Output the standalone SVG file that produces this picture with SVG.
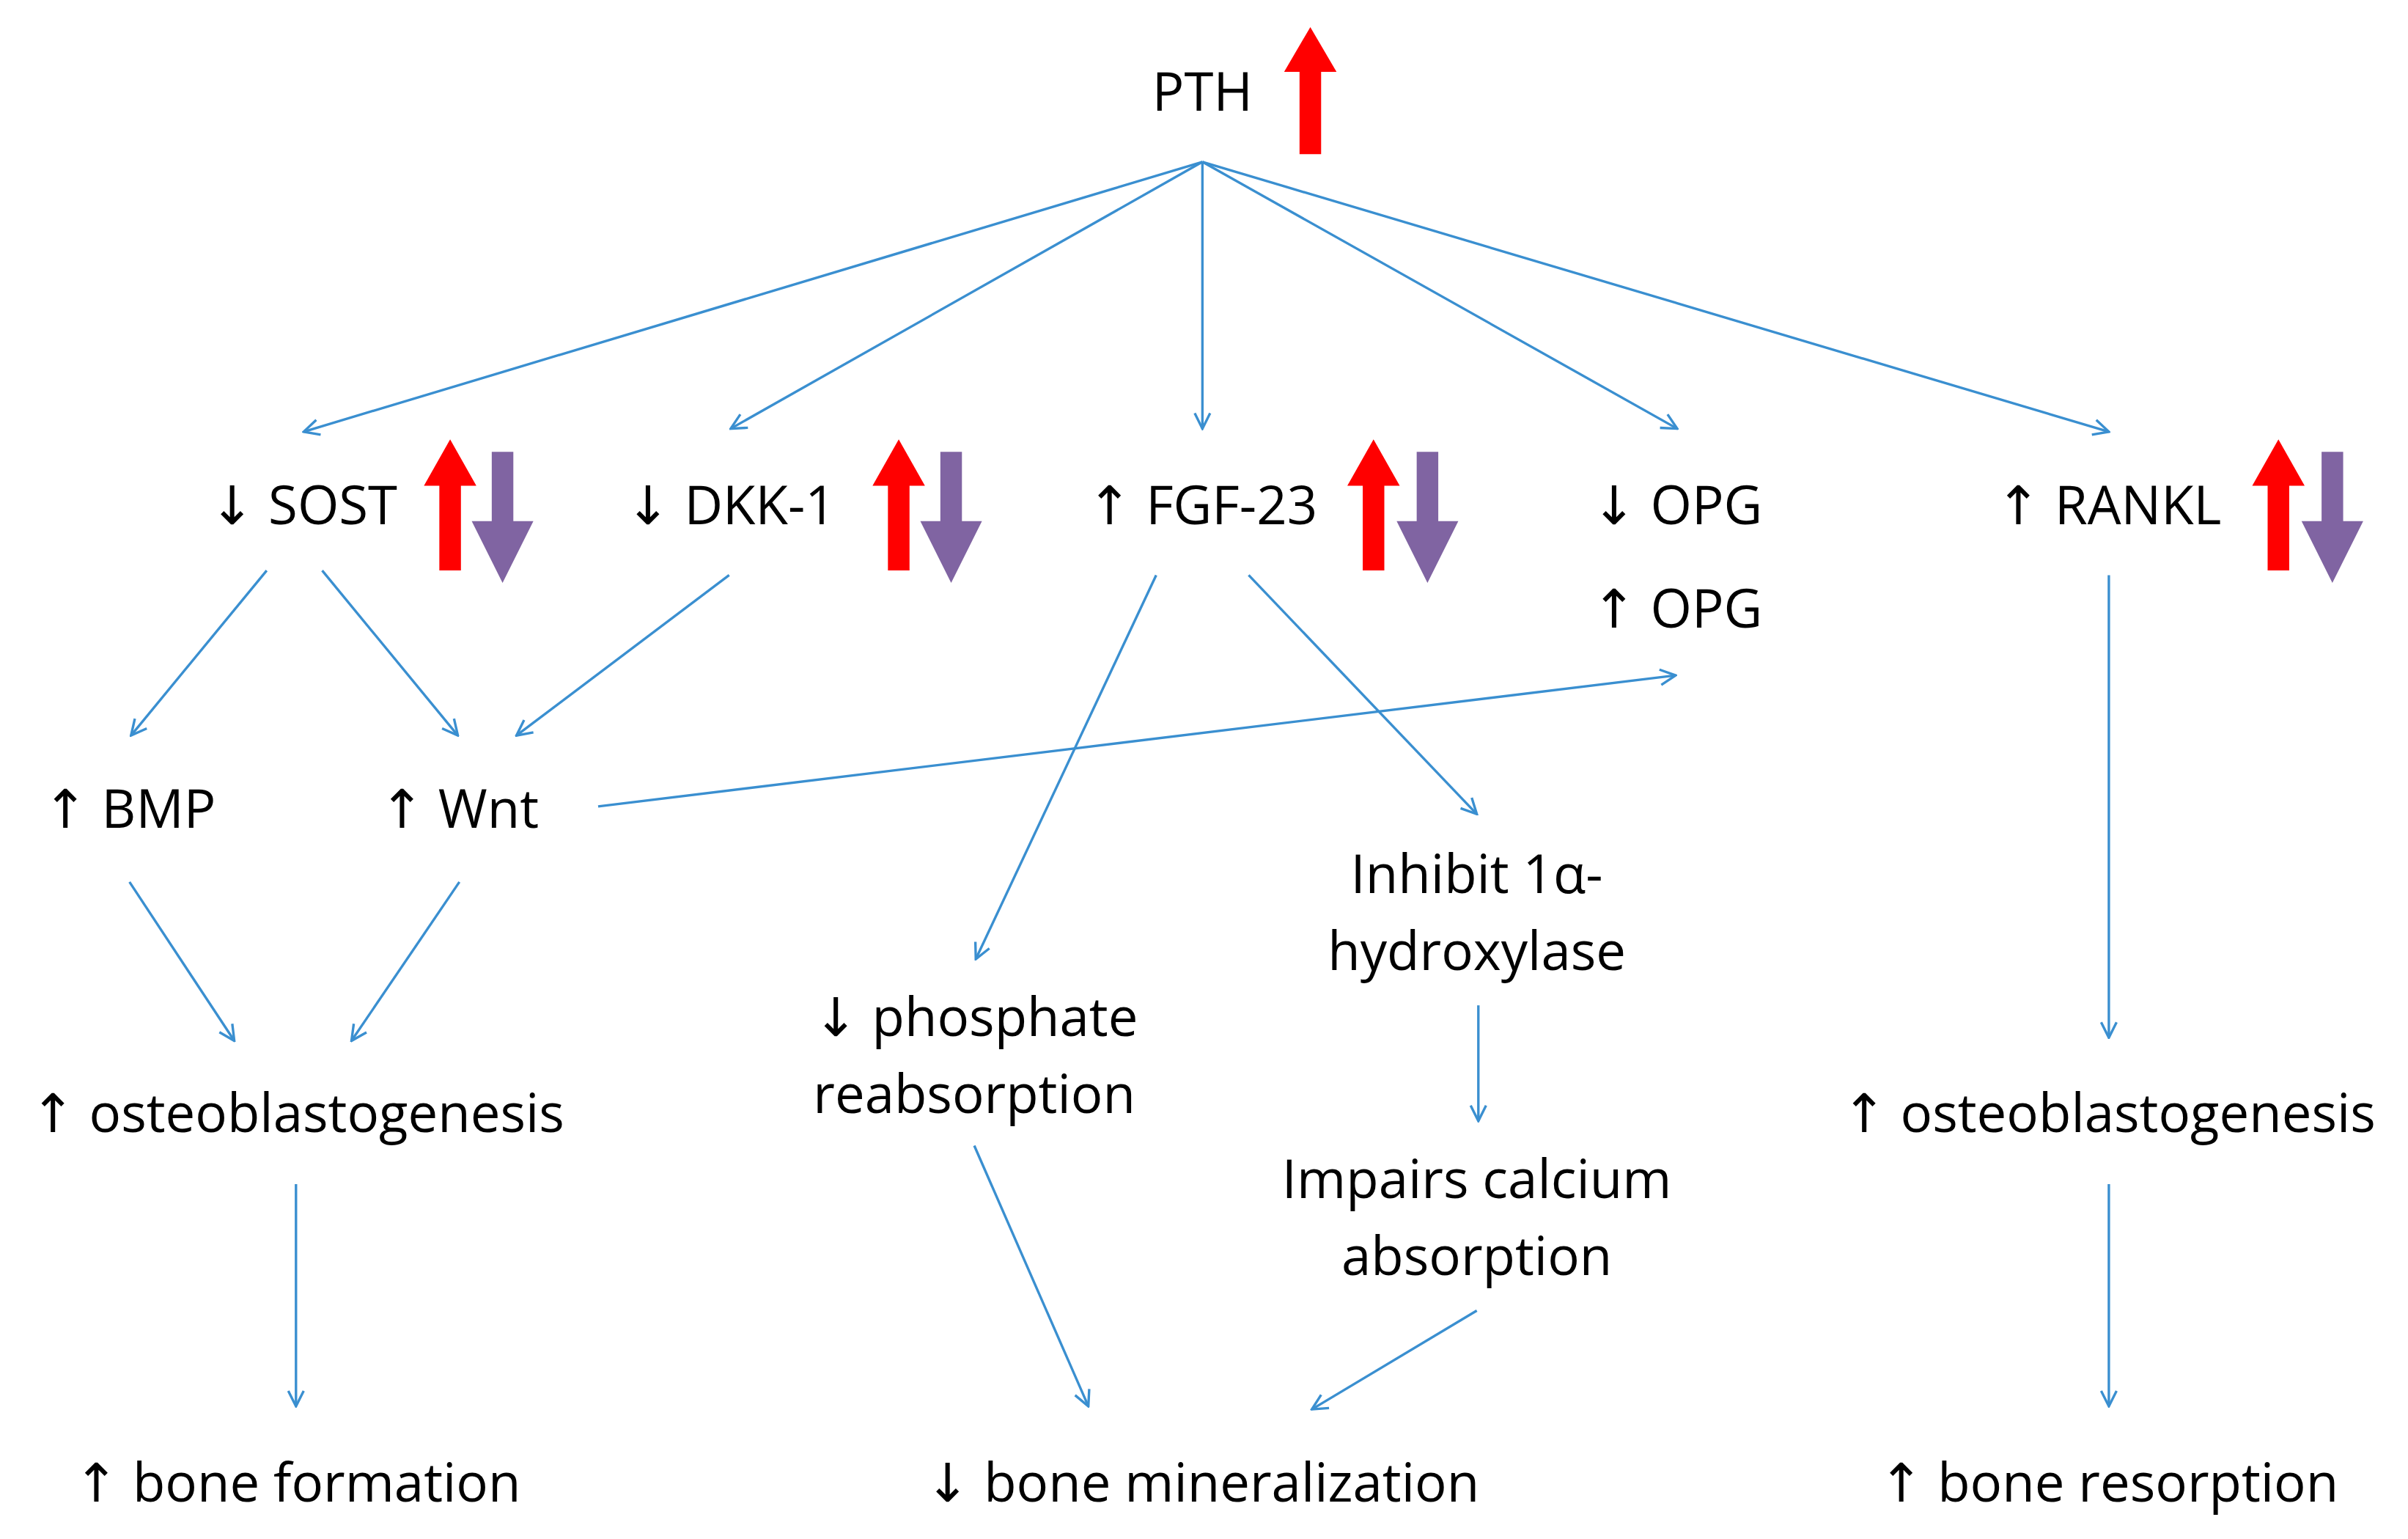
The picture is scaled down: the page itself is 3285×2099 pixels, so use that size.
<svg xmlns="http://www.w3.org/2000/svg" width="3285" height="2099" viewBox="0 0 3285 2099">
<style>
text{font-family:"Open Sans","DejaVu Sans",sans-serif;font-size:34.5px;fill:#000;text-anchor:middle}
.c line{stroke:#3a8fd0;stroke-width:1.6;marker-end:url(#a)}
.r{fill:#ff0000}.p{fill:#8064a2}
</style>
<defs>
<marker id="a" viewBox="0 0 12 12" refX="11" refY="6" markerWidth="12" markerHeight="12" markerUnits="userSpaceOnUse" orient="auto">
<path d="M1,1 L11,6 L1,11" fill="none" stroke="#3a8fd0" stroke-width="1.6"/>
</marker>
<polygon id="up" points="-7,0 -7,-55 -17,-55 0,-85 17,-55 7,-55 7,0"/>
<polygon id="dn" points="-7,0 -7,45 -20,45 0,85 20,45 7,45 7,0"/>
</defs>
<rect width="3285" height="2099" fill="#fff"/>
<g transform="scale(2.103)">
<g class="c" id="connectors">
<line x1="780" y1="105" x2="197" y2="280"/>
<line x1="780" y1="105" x2="474" y2="278"/>
<line x1="780" y1="105" x2="780" y2="278"/>
<line x1="780" y1="105" x2="1088" y2="278"/>
<line x1="780" y1="105" x2="1368" y2="280"/>
<line x1="173" y1="370" x2="85" y2="477"/>
<line x1="209" y1="370" x2="297" y2="477"/>
<line x1="473" y1="373" x2="335" y2="477"/>
<line x1="388" y1="523" x2="1087" y2="438"/>
<line x1="750" y1="373" x2="633" y2="622"/>
<line x1="810" y1="373" x2="958" y2="528"/>
<line x1="84" y1="572" x2="152" y2="675"/>
<line x1="298" y1="572" x2="228" y2="675"/>
<line x1="192" y1="768" x2="192" y2="912"/>
<line x1="632" y1="743" x2="706" y2="912"/>
<line x1="959" y1="652" x2="959" y2="727"/>
<line x1="958" y1="850" x2="851" y2="914"/>
<line x1="1368" y1="373" x2="1368" y2="673"/>
<line x1="1368" y1="768" x2="1368" y2="912"/>
</g>
<g id="PTH"><text x="780" y="72">PTH</text><use href="#up" class="r" transform="translate(850,100) scale(1,0.97)"/></g>
<g id="SOST"><text x="197" y="340">↓ SOST</text><use href="#up" class="r" x="292" y="370"/><use href="#dn" class="p" x="326" y="293"/></g>
<g id="DKK1"><text x="474" y="340">↓ DKK-1</text><use href="#up" class="r" x="583" y="370"/><use href="#dn" class="p" x="617" y="293"/></g>
<g id="FGF23"><text x="780" y="340">↑ FGF-23</text><use href="#up" class="r" x="891" y="370"/><use href="#dn" class="p" x="926" y="293"/></g>
<g id="OPG"><text x="1088" y="340">↓ OPG</text><text x="1088" y="407">↑ OPG</text></g>
<g id="RANKL"><text x="1368" y="340">↑ RANKL</text><use href="#up" class="r" x="1478" y="370"/><use href="#dn" class="p" x="1513" y="293"/></g>
<g id="BMP"><text x="84" y="537">↑ BMP</text></g>
<g id="Wnt"><text x="298" y="537">↑ Wnt</text></g>
<g id="osteo1"><text x="193" y="734">↑ osteoblastogenesis</text></g>
<g id="boneformation"><text x="193" y="974">↑ bone formation</text></g>
<g id="phosphate"><text x="633" y="672">↓ phosphate</text><text x="632" y="722">reabsorption</text></g>
<g id="inhibit"><text x="958" y="579">Inhibit 1α-</text><text x="958" y="629">hydroxylase</text></g>
<g id="impairs"><text x="958" y="777">Impairs calcium</text><text x="958" y="827">absorption</text></g>
<g id="mineralization"><text x="780" y="974">↓ bone mineralization</text></g>
<g id="osteo2"><text x="1368" y="734">↑ osteoblastogenesis</text></g>
<g id="resorption"><text x="1368" y="974">↑ bone resorption</text></g>
</g>
</svg>
